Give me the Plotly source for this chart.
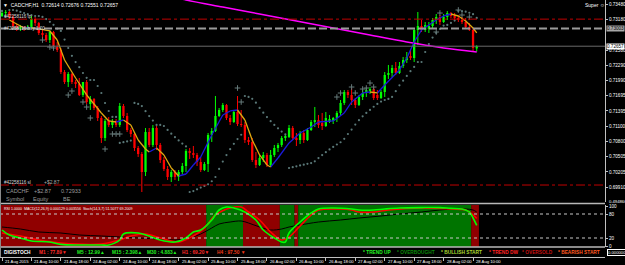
import plotly.graph_objects as go

# ---------------- DATA ----------------
bars = list(range(130))  # H1 bars, bar 0 = 21 Aug 2015 02:00, bar 129 = 28 Aug 11:00
opens = [0.73246,0.73305,0.73324,0.73227,0.73051,0.72993,0.73032,0.72993,0.73032,0.73188,
         0.73110,0.72915,0.72876,0.72778,0.72934,0.72642,0.72583,0.72154,0.71959,0.72115,
         0.71959,0.71920,0.71706,0.71959,0.71530,0.71628,0.71452,0.71257,0.70867,0.71199,
         0.71121,0.71199,0.71121,0.71491,0.71296,0.71023,0.70945,0.70672,0.70555,0.70204,
         0.70984,0.70731,0.71062,0.70731,0.70438,0.70263,0.70107,0.70204,0.70107,0.70204,
         0.70321,0.70614,0.70575,0.70536,0.70399,0.70243,0.70360,0.70926,0.71004,0.71296,
         0.71413,0.71511,0.71257,0.71179,0.71374,0.71140,0.71121,0.70828,0.70789,0.70438,
         0.70341,0.70477,0.70536,0.70341,0.70536,0.70672,0.70731,0.70867,0.70887,0.71062,
         0.70867,0.70828,0.70965,0.70828,0.71023,0.71179,0.71218,0.71160,0.71101,0.71179,
         0.71199,0.71257,0.71355,0.71550,0.71764,0.71706,0.71608,0.71511,0.71667,0.71745,
         0.71784,0.71823,0.71706,0.71647,0.71764,0.72096,0.72135,0.72232,0.72135,0.72271,
         0.72388,0.72447,0.72427,0.72973,0.73051,0.72973,0.72993,0.73051,0.73168,0.73227,
         0.73129,0.73227,0.73305,0.73246,0.73207,0.73168,0.73129,0.73032,0.72973,0.72614]
highs = [0.73344,0.73363,0.73344,0.73266,0.73090,0.73071,0.73051,0.73071,0.73246,0.73227,
         0.73129,0.72973,0.72915,0.72973,0.72954,0.72739,0.72622,0.72193,0.72154,0.72135,
         0.71998,0.72037,0.71959,0.71998,0.71686,0.71647,0.71491,0.71296,0.71238,0.71277,
         0.71238,0.71238,0.71550,0.71530,0.71355,0.71062,0.70984,0.70711,0.70594,0.71062,
         0.71062,0.71121,0.71101,0.70770,0.70497,0.70321,0.70243,0.70243,0.70243,0.70380,
         0.70653,0.70672,0.70711,0.70575,0.70497,0.70399,0.70965,0.71062,0.71686,0.71452,
         0.71550,0.71530,0.71316,0.71413,0.71686,0.71413,0.71179,0.70887,0.70867,0.70594,
         0.70536,0.70594,0.70575,0.70633,0.70731,0.70770,0.70906,0.70926,0.71121,0.71101,
         0.70965,0.71004,0.71023,0.71062,0.71218,0.71472,0.71316,0.71355,0.71374,0.71316,
         0.71277,0.71394,0.71608,0.71803,0.71803,0.71842,0.71647,0.71706,0.71803,0.71842,
         0.71862,0.71862,0.71803,0.71803,0.72154,0.72291,0.72291,0.72349,0.72349,0.72447,
         0.72544,0.72583,0.73012,0.73324,0.73168,0.73129,0.73129,0.73207,0.73285,0.73266,
         0.73285,0.73344,0.73324,0.73305,0.73266,0.73227,0.73207,0.73110,0.73012,0.72676]
lows = [0.73227,0.73266,0.73188,0.73012,0.72954,0.72954,0.72954,0.72973,0.72993,0.73051,
        0.72876,0.72817,0.72739,0.72720,0.72603,0.72544,0.72115,0.71920,0.71862,0.71920,
        0.71842,0.71686,0.71667,0.71530,0.71413,0.71413,0.71199,0.70770,0.70809,0.71082,
        0.71062,0.71082,0.71082,0.71257,0.70984,0.70887,0.70614,0.70497,0.69814,0.70126,
        0.70692,0.70692,0.70633,0.70380,0.70224,0.70048,0.70009,0.70048,0.70029,0.70165,
        0.70204,0.70458,0.70477,0.70321,0.70204,0.70224,0.70204,0.70789,0.70984,0.71277,
        0.71374,0.71218,0.71121,0.71160,0.71101,0.71082,0.70770,0.70731,0.70399,0.70282,
        0.70321,0.70399,0.70302,0.70302,0.70497,0.70594,0.70692,0.70809,0.70867,0.70828,
        0.70711,0.70750,0.70770,0.70809,0.71004,0.71082,0.71062,0.71023,0.71082,0.71160,
        0.71140,0.71179,0.71316,0.71511,0.71647,0.71511,0.71452,0.71491,0.71608,0.71667,
        0.71725,0.71608,0.71608,0.71628,0.71667,0.72018,0.72057,0.72096,0.72115,0.72232,
        0.72330,0.72388,0.72349,0.72681,0.72934,0.72934,0.72915,0.72993,0.73090,0.73071,
        0.73110,0.73168,0.73207,0.73168,0.73129,0.73090,0.72993,0.72954,0.72564,0.72551]
closes = [0.73305,0.73324,0.73227,0.73051,0.72993,0.73032,0.72993,0.73032,0.73188,0.73110,
          0.72915,0.72876,0.72778,0.72934,0.72642,0.72583,0.72154,0.71959,0.72115,0.71959,
          0.71920,0.71706,0.71959,0.71569,0.71628,0.71452,0.71257,0.70867,0.71199,0.71121,
          0.71199,0.71121,0.71491,0.71296,0.71023,0.70945,0.70672,0.70555,0.70204,0.70984,
          0.70731,0.71062,0.70731,0.70438,0.70263,0.70107,0.70204,0.70107,0.70204,0.70321,
          0.70614,0.70575,0.70536,0.70399,0.70243,0.70360,0.70926,0.71004,0.71296,0.71413,
          0.71511,0.71257,0.71179,0.71374,0.71140,0.71121,0.70828,0.70789,0.70438,0.70341,
          0.70477,0.70536,0.70341,0.70536,0.70672,0.70731,0.70867,0.70887,0.71062,0.70867,
          0.70828,0.70965,0.70828,0.71023,0.71179,0.71218,0.71121,0.71101,0.71257,0.71238,
          0.71257,0.71355,0.71550,0.71764,0.71706,0.71608,0.71511,0.71667,0.71745,0.71803,
          0.71823,0.71647,0.71647,0.71764,0.72096,0.72135,0.72232,0.72135,0.72271,0.72388,
          0.72447,0.72427,0.72973,0.73051,0.72973,0.73071,0.73051,0.73168,0.73227,0.73129,
          0.73227,0.73305,0.73246,0.73207,0.73168,0.73129,0.73032,0.72973,0.72622,0.72657]

# colour-changing moving average (read at sample bars)
ma_bars = [2,6,8,10,13,15,17,20,23,27,29,31,33,35,37,39,40,42,44,46,48,50,52,54,57,60,62,64,66,68,
           70,72,73,75,78,81,84,86,90,93,95,98,100,102,104,108,110,112,114,116,118,120,122,124,126,128,129]
ma_vals = [0.73168,0.73012,0.73012,0.72993,0.72954,0.72778,0.72388,0.72037,0.71706,0.71355,
           0.71199,0.71179,0.71218,0.71121,0.70828,0.70653,0.70594,0.70672,0.70536,0.70282,
           0.70126,0.70165,0.70341,0.70497,0.70926,0.71316,0.71394,0.71413,0.71218,0.70828,
           0.70536,0.70341,0.70302,0.70477,0.70770,0.70965,0.71082,0.71179,0.71199,0.71355,
           0.71569,0.71745,0.71764,0.71745,0.71901,0.72193,0.72427,0.72739,0.72973,0.73071,
           0.73168,0.73246,0.73285,0.73246,0.73149,0.73012,0.72915]

# long moving average (magenta)
lma_bars = [40,50,60,70,80,90,100,110,120,129]
lma_vals = [0.73714,0.73558,0.73421,0.73285,0.73148,0.73012,0.72875,0.72739,0.72622,0.72544]

# extra "+" markers
cross_bars = [11,13,14,18,19,22,23,24,28,30,31,32,64,65,91,92,95,96,98,99,100,101,118,119,124,125,127]
cross_vals = [0.72778,0.72641,0.72622,0.71705,0.71783,0.71569,0.71471,0.71257,0.70652,0.70945,
              0.70945,0.70945,0.71842,0.71569,0.71666,0.71744,0.71861,0.71744,0.71822,0.71842,
              0.71939,0.71861,0.72934,0.73304,0.73363,0.73265,0.73226]

# order levels
tp_level = 0.73185
open_level = 0.73003
bid_level = 0.72657
sl_level = 0.69950

# oscillator window
stk_bars = [0,2,5,8,13,16,21,27,29,32,33,37,40,43,47,50,52,54,57,59,61,63,66,69,71,74,76,77,78,81,
            84,86,90,95,97,101,104,108,114,119,122,125,127,128,129]
stk_vals = [40,27.5,20,12.5,10,4,2.5,2.5,2.5,15,30,32.5,25,15,10,20,35,40,65,90,97.5,95,85,65,40,20,
            10,10,32.5,60,82.5,92.5,95,92.5,90,90,92.5,95,96,96,94,92.5,85,70,51.5]
std_bars = [0,5,10,16,27,32,35,39,43,48,52,55,58,62,65,67,70,73,76,78,81,84,86,92,95,97,101,105,
            114,122,126,127,128,129]
std_vals = [32.5,25,15,7.5,5,15,25,30,20,10,25,45,77.5,95,97.5,85,65,35,15,22.5,50,77.5,90,92.5,
            90,85,85,90,95,92.5,90,85,77.5,69.2]
blk_bars = [0,5,10,16,21,27,32,37,43,47,51,54,57,59,62,65,67,70,73,76,78,81,86,92,97,103,108,114,
            119,123,126,128,129]
blk_vals = [47.5,42.5,35,32.5,27.5,25,22.5,20,17.5,15,20,30,45,55,60,62.5,57.5,47.5,40,42.5,47.5,
            52.5,60,65,70,75,80,85,90,92.5,92.5,90,85]
zone_start = [-0.6, 55.5, 65.5, 75.5, 79.5, 80.5, 127.5]
zone_end = [55.5, 65.5, 75.5, 79.5, 80.5, 127.5, 129.6]
zone_state = ["dn", "up", "dn", "up", "dn", "up", "dn"]

price_ticks = [0.73480,0.73180,0.72580,0.72290,0.71990,0.71695,0.71395,0.71100,0.70800,0.70505,
               0.70205,0.69910,0.69615]
price_tick_text = ["0.73480","0.73180","0.72580","0.72290","0.71990","0.71695","0.71395","0.71100",
                   "0.70800","0.70505","0.70205","0.69910","0.69615"]
osc_ticks = [0, 20, 80, 100]
osc_tick_text = ["0", "20", "80", "100"]
date_bars = [0,8,16,24,32,40,48,56,64,72,80,88,96,104,112,120,128]
date_labels = ["21 Aug 2015","21 Aug 10:00","21 Aug 18:00","24 Aug 02:00","24 Aug 10:00","24 Aug 18:00",
               "25 Aug 02:00","25 Aug 10:00","25 Aug 18:00","26 Aug 02:00","26 Aug 10:00","26 Aug 18:00",
               "27 Aug 02:00","27 Aug 10:00","27 Aug 18:00","28 Aug 02:00","28 Aug 10:00"]
tf_labels = ["M1 : 77.89▼", "M5 : 12.99▲", "M15 : 2.398▲", "M30 : 4.883▲", "H1 : 69.20▼", "H4 : 97.50 ▼"]
legend_labels = ["* TREND UP", "* OVERBOUGHT", "* BULLISH START", "* TREND DW", "* OVERSOLD", "* BEARISH START"]

# ---------------- LAYOUT CONSTANTS ----------------
W, H = 625, 265
ML, MR, MT, MB = 0, 20, 0, 8
PW, PH = W - ML - MR, H - MT - MB
FONT = "Liberation Sans"

def px(x):
    return (x - ML) / PW

def py(y):
    return (PH - (y - MT)) / PH

# ---------------- PARABOLIC SAR from read OHLC ----------------
def psar(hi, lo, step=0.02, mx=0.2):
    n = len(hi)
    out = [hi[0]] * n
    bull = False
    af = step
    ep = lo[0]
    for i in range(1, n):
        s = out[i - 1] + af * (ep - out[i - 1])
        if bull:
            s = min(s, lo[i - 1], lo[i - 2] if i > 1 else lo[i - 1])
            if lo[i] < s:
                bull, s, ep, af = False, ep, lo[i], step
            elif hi[i] > ep:
                ep, af = hi[i], min(af + step, mx)
        else:
            s = max(s, hi[i - 1], hi[i - 2] if i > 1 else hi[i - 1])
            if hi[i] > s:
                bull, s, ep, af = True, ep, hi[i], step
            elif lo[i] < ep:
                ep, af = lo[i], min(af + step, mx)
        out[i] = s
    return out

sar = psar(highs, lows)

fig = go.Figure()

# oscillator zones + dotted levels
shapes = []
for a, b, s in zip(zone_start, zone_end, zone_state):
    shapes.append(dict(type="rect", xref="x", yref="y2 domain", x0=a, x1=b, y0=0, y1=1,
                       fillcolor="#007400" if s == "up" else "#900000", line=dict(width=0), layer="below"))
for lv in (20, 80):
    shapes.append(dict(type="line", xref="paper", yref="y2", x0=0, x1=1, y0=lv, y1=lv,
                       line=dict(color="#c8c8c8", width=1, dash="dot")))
# order lines
shapes.append(dict(type="line", xref="paper", yref="y", x0=0, x1=1, y0=tp_level, y1=tp_level,
                   line=dict(color="#c00000", width=1, dash="dashdot")))
shapes.append(dict(type="line", xref="paper", yref="y", x0=0, x1=1, y0=sl_level, y1=sl_level,
                   line=dict(color="#c00000", width=1, dash="dashdot")))
shapes.append(dict(type="line", xref="paper", yref="y", x0=0, x1=1, y0=open_level, y1=open_level,
                   line=dict(color="#9a9a9a", width=2, dash="8px,3px")))
shapes.append(dict(type="line", xref="paper", yref="y", x0=0, x1=1, y0=bid_level, y1=bid_level,
                   line=dict(color="#6a6a6a", width=1)))
# panel separators
for yy in (203.5, 247):
    shapes.append(dict(type="line", xref="paper", yref="paper", x0=0, x1=1, y0=py(yy), y1=py(yy),
                       line=dict(color="#b8b8b8", width=1.5)))
shapes.append(dict(type="line", xref="paper", yref="paper", x0=px(0.5), x1=px(0.5), y0=0, y1=1,
                   line=dict(color="#8a8a8a", width=1)))

# candles: wicks and bodies
for up, col in ((True, "#00ff00"), (False, "#ff0000")):
    wx, wy = [], []
    bx, bb, bh = [], [], []
    for i in bars:
        is_up = closes[i] >= opens[i]
        if is_up != up:
            continue
        wx += [i, i, None]
        wy += [lows[i], highs[i], None]
        lo_b = min(opens[i], closes[i])
        hgt = max(abs(closes[i] - opens[i]), 0.00005)
        bx.append(i); bb.append(lo_b); bh.append(hgt)
    fig.add_trace(go.Scatter(x=wx, y=wy, mode="lines", line=dict(color=col, width=1),
                             hoverinfo="skip", showlegend=False))
    fig.add_trace(go.Bar(x=bx, y=bh, base=bb, width=0.62, marker=dict(color=col, line=dict(width=0)),
                         showlegend=False, hoverinfo="skip"))

# SAR dots and crosses
fig.add_trace(go.Scatter(x=bars, y=sar, mode="markers",
                         marker=dict(color="#5a7878", size=2.2, symbol="circle"), showlegend=False))
fig.add_trace(go.Scatter(x=cross_bars, y=cross_vals, mode="markers",
                         marker=dict(color="#667a7a", size=4, symbol="cross-thin",
                                     line=dict(color="#667a7a", width=1)), showlegend=False))

# magenta long MA
fig.add_trace(go.Scatter(x=lma_bars, y=lma_vals, mode="lines", line=dict(color="#ff00ff", width=1.4, shape="spline"),
                         showlegend=False))

# colour MA
ux, uy, dx, dy = [], [], [], []
for k in range(len(ma_bars) - 1):
    seg_x = [ma_bars[k], ma_bars[k + 1], None]
    seg_y = [ma_vals[k], ma_vals[k + 1], None]
    if ma_vals[k + 1] >= ma_vals[k]:
        ux += seg_x; uy += seg_y
    else:
        dx += seg_x; dy += seg_y
fig.add_trace(go.Scatter(x=ux, y=uy, mode="lines", line=dict(color="#1a1adc", width=1.3), showlegend=False))
fig.add_trace(go.Scatter(x=dx, y=dy, mode="lines", line=dict(color="#e0a810", width=1.3), showlegend=False))

# oscillator lines
fig.add_trace(go.Scatter(x=blk_bars, y=blk_vals, yaxis="y2", mode="lines",
                         line=dict(color="#000000", width=1, shape="spline"), showlegend=False))
fig.add_trace(go.Scatter(x=std_bars, y=std_vals, yaxis="y2", mode="lines",
                         line=dict(color="#ff0000", width=1.6, shape="spline"), showlegend=False))
fig.add_trace(go.Scatter(x=stk_bars, y=stk_vals, yaxis="y2", mode="lines",
                         line=dict(color="#00ff00", width=1.6, shape="spline"), showlegend=False))

# ---------------- TEXT ----------------
ann = []
def txt(x, y, s, color="#ffffff", size=5, xanchor="left", yanchor="middle", bg=None, border=None, bold=False):
    d = dict(x=px(x), y=py(y), xref="paper", yref="paper", text=("<b>%s</b>" % s if bold else s),
             showarrow=False, xanchor=xanchor, yanchor=yanchor,
             font=dict(family=FONT, size=size, color=color), borderpad=0)
    if bg:
        d["bgcolor"] = bg
    if border:
        d["bordercolor"] = border
        d["borderwidth"] = 1
    ann.append(d)

txt(2, 4.5, "▼  CADCHF,H1  0.72614 0.72676 0.72551 0.72657", size=5)
txt(584, 5, "Super ☺", size=5)
txt(3, 16, "#42258116 tp", color="#d8d8d8", size=4.5)
txt(3, 28.5, "#42258116 buy 1.00", color="#d8d8d8", size=4.5)
txt(3, 182.5, "#42258116 sl", color="#d8d8d8", size=4.5)
txt(43, 182.5, "+$2.87", color="#a8a8a8", size=5)
txt(5, 191, "CADCHF", color="#9a9a9a", size=5.5)
txt(33, 191, "+$2.87", color="#9a9a9a", size=5.5)
txt(60, 191, "0.72933", color="#9a9a9a", size=5.5)
txt(5, 199, "Symbol", color="#9a9a9a", size=5.5)
txt(32, 199, "Equity", color="#9a9a9a", size=5.5)
txt(62, 199, "BE", color="#9a9a9a", size=5.5)
txt(3, 208.5, "RSI 1.0000  MACD(12,26,9) 0.000129 0.003556  Stoch(14,3,7) 51.5077 69.2009", size=3.6)
txt(608, 201, "0.494866", size=4.2)

# DIGISTOCH row
txt(3, 252, "DIGISTOCH", size=4.8, bold=True)
tf_x = [38, 76, 111, 146, 181, 216]
tf_col = ["#ff2a2a", "#22ee22", "#22ee22", "#22ee22", "#ff2a2a", "#f03a1a"]
for xx, s, c in zip(tf_x, tf_labels, tf_col):
    txt(xx, 252, s, color=c, size=4.8, bold=True)
lg_x = [362, 396, 440, 488, 521, 557]
lg_col = ["#22f022", "#0a8a0a", "#a8d830", "#ff2020", "#c01010", "#ff5a20"]
for xx, s, c in zip(lg_x, legend_labels, lg_col):
    txt(xx, 252, s, color=c, size=4.8, bold=True)
txt(607, 252.5, "0.000000", size=4.2, bg="#000000", border="#ffffff")

# price label boxes on axis
ann.append(dict(x=1, y=open_level, xref="paper", yref="y", text="0.73003", showarrow=False, xanchor="left",
                xshift=1, font=dict(family=FONT, size=4.6, color="#000000"), bgcolor="#a8a8a8", borderpad=0))
ann.append(dict(x=1, y=bid_level, xref="paper", yref="y", text="0.72657", showarrow=False, xanchor="left",
                xshift=1, font=dict(family=FONT, size=4.6, color="#000000"), bgcolor="#ffffff", borderpad=0))

# date labels
for b, s in zip(date_bars, date_labels):
    ann.append(dict(x=b, y=py(261), xref="x", yref="paper", text=s, showarrow=False, xanchor="left",
                    yanchor="middle", xshift=1, font=dict(family=FONT, size=4.2, color="#ffffff")))

fig.update_layout(
    width=W, height=H, margin=dict(l=ML, r=MR, t=MT, b=MB),
    paper_bgcolor="#000000", plot_bgcolor="#000000",
    barmode="overlay", showlegend=False, shapes=shapes, annotations=ann,
    xaxis=dict(range=[-0.543, (PW - 2) / 3.68], tickvals=date_bars, showticklabels=False,
               ticks="outside", ticklen=3, tickcolor="#c0c0c0", showline=True, linecolor="#c0c0c0",
               linewidth=1, showgrid=False, zeroline=False, anchor="free", position=0, fixedrange=True),
    yaxis=dict(domain=[py(202), 1], range=[0.69619, 0.73558], side="right", anchor="x",
               tickvals=price_ticks, ticktext=price_tick_text, ticks="outside", ticklen=2,
               tickcolor="#c0c0c0", tickfont=dict(family=FONT, size=4.6, color="#ffffff"),
               showline=True, linecolor="#c0c0c0", linewidth=1, showgrid=False, zeroline=False),
    yaxis2=dict(domain=[py(247), py(205)], range=[-2.5, 102.5], side="right", anchor="x",
                tickvals=osc_ticks, ticktext=osc_tick_text, ticks="outside", ticklen=2,
                tickcolor="#c0c0c0", tickfont=dict(family=FONT, size=4.6, color="#ffffff"),
                showline=True, linecolor="#c0c0c0", linewidth=1, showgrid=False, zeroline=False),
)

fig.write_html("out.html")
